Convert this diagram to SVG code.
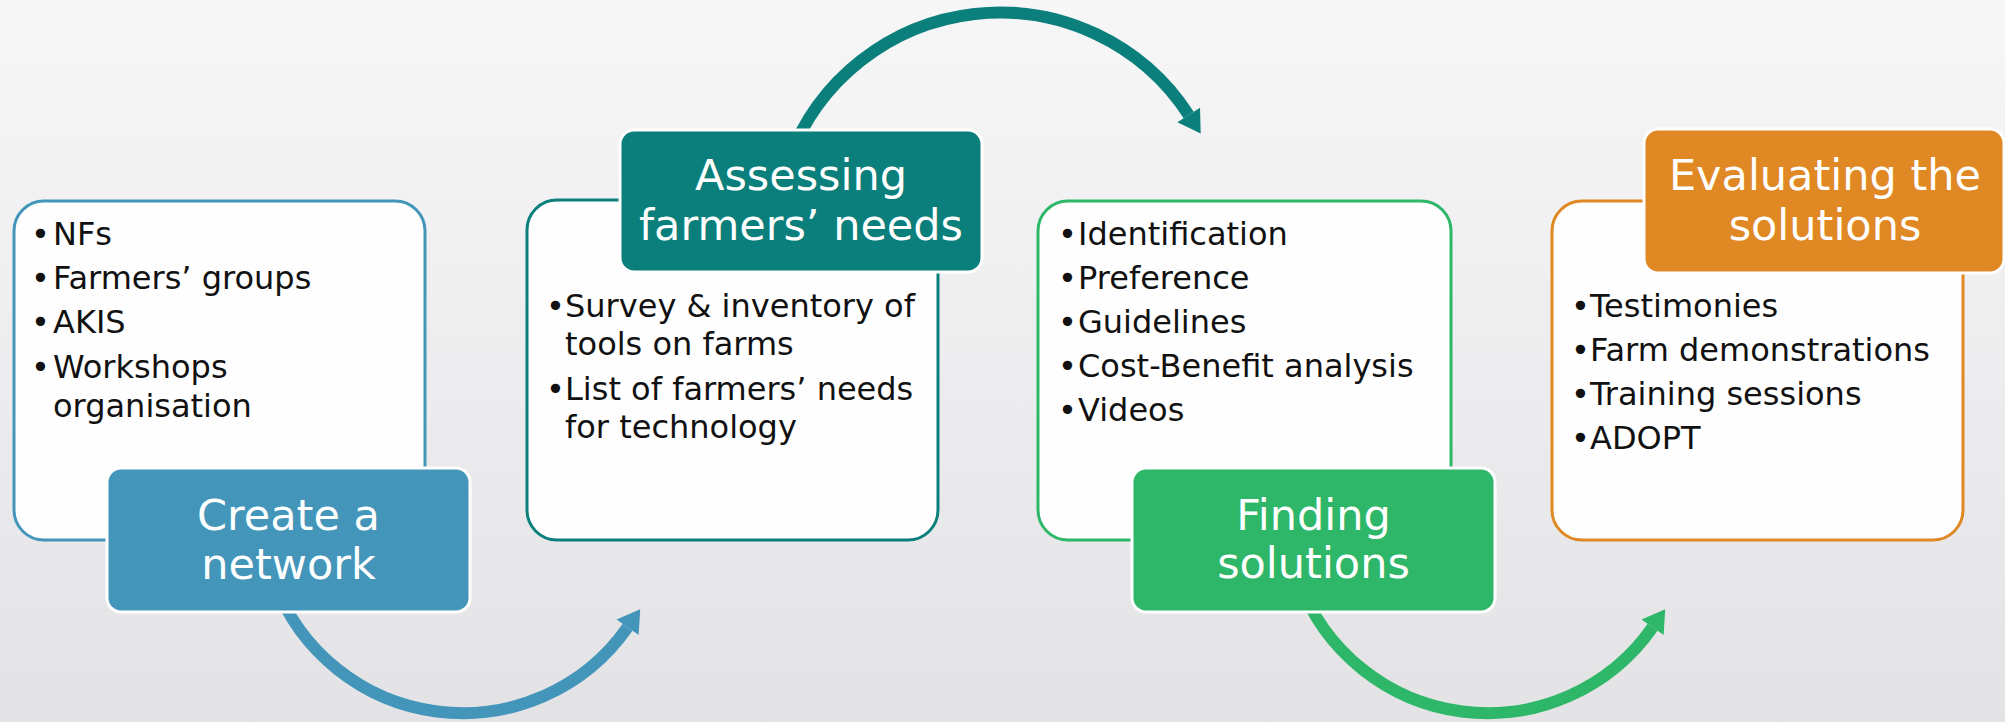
<svg xmlns="http://www.w3.org/2000/svg" width="2005" height="722" viewBox="0 0 2005 722">
<defs>
<linearGradient id="bg" x1="0" y1="0" x2="0" y2="1">
<stop offset="0" stop-color="#f7f7f8"/>
<stop offset="1" stop-color="#e3e3e6"/>
</linearGradient>
<marker id="hBlue" markerUnits="userSpaceOnUse" markerWidth="30" markerHeight="30" viewBox="-2 -15 26 30" refX="0" refY="0" orient="auto"><path d="M0,-13.5 L22,0 L0,13.5 Z" fill="#4396ba"/></marker>
<marker id="hTeal" markerUnits="userSpaceOnUse" markerWidth="30" markerHeight="30" viewBox="-2 -15 26 30" refX="0" refY="0" orient="auto"><path d="M0,-13.5 L22,0 L0,13.5 Z" fill="#0b7f7b"/></marker>
<marker id="hGreen" markerUnits="userSpaceOnUse" markerWidth="30" markerHeight="30" viewBox="-2 -15 26 30" refX="0" refY="0" orient="auto"><path d="M0,-13.5 L22,0 L0,13.5 Z" fill="#2eb769"/></marker>
</defs>
<style>
.body{fill:#fefefe;stroke-width:3}
.head{stroke:#ffffff;stroke-width:3}
.item{font-family:"DejaVu Sans",sans-serif;font-size:32px;fill:#111111}
.title{font-family:"DejaVu Sans",sans-serif;font-size:43px;fill:#ffffff;text-anchor:middle}
.arc{fill:none;stroke-width:12}
</style>
<rect x="0" y="0" width="2005" height="722" fill="url(#bg)"/>
<g id="connectors">
<path class="arc" stroke="#4396ba" marker-end="url(#hBlue)" d="M274,581 A201,201 0 0 0 627.6,627.3"/>
<path class="arc" stroke="#0b7f7b" marker-end="url(#hTeal)" d="M788.6,160.5 A225,225 0 0 1 1188.7,115"/>
<path class="arc" stroke="#2eb769" marker-end="url(#hGreen)" d="M1299,581 A201,201 0 0 0 1652.6,627.3"/>
</g>
<g id="node1">
<rect class="body" x="14" y="201" width="411" height="339" rx="30" stroke="#4396ba"/>
<text class="item" x="31" y="245">•</text><text class="item" x="53" y="245">NFs</text>
<text class="item" x="31" y="289">•</text><text class="item" x="53" y="289">Farmers’ groups</text>
<text class="item" x="31" y="333">•</text><text class="item" x="53" y="333">AKIS</text>
<text class="item" x="31" y="378">•</text><text class="item" x="53" y="378">Workshops</text>
<text class="item" x="53" y="417">organisation</text>
<rect class="head" x="107" y="468" width="363" height="144" rx="14" fill="#4396ba"/>
<text class="title" x="288.5" y="530">Create a</text>
<text class="title" x="288.5" y="579">network</text>
</g>
<g id="node2">
<rect class="body" x="527" y="200" width="411" height="340" rx="30" stroke="#0b7f7b"/>
<rect class="head" x="620" y="130" width="362" height="142" rx="14" fill="#0b7f7b"/>
<text class="title" x="801" y="190">Assessing</text>
<text class="title" x="801" y="240">farmers’ needs</text>
<text class="item" x="546" y="317">•</text><text class="item" x="565" y="317">Survey &amp; inventory of</text>
<text class="item" x="565" y="355">tools on farms</text>
<text class="item" x="546" y="400">•</text><text class="item" x="565" y="400">List of farmers’ needs</text>
<text class="item" x="565" y="438">for technology</text>
</g>
<g id="node3">
<rect class="body" x="1038" y="201" width="413" height="339" rx="30" stroke="#2eb769"/>
<text class="item" x="1058" y="245">•</text><text class="item" x="1078" y="245">Identification</text>
<text class="item" x="1058" y="289">•</text><text class="item" x="1078" y="289">Preference</text>
<text class="item" x="1058" y="333">•</text><text class="item" x="1078" y="333">Guidelines</text>
<text class="item" x="1058" y="377">•</text><text class="item" x="1078" y="377">Cost-Benefit analysis</text>
<text class="item" x="1058" y="421">•</text><text class="item" x="1078" y="421">Videos</text>
<rect class="head" x="1132" y="468" width="363" height="144" rx="14" fill="#2eb769"/>
<text class="title" x="1313.5" y="530">Finding</text>
<text class="title" x="1313.5" y="578">solutions</text>
</g>
<g id="node4">
<rect class="body" x="1552" y="201" width="411" height="339" rx="30" stroke="#df8824"/>
<rect class="head" x="1644" y="129" width="360" height="144" rx="14" fill="#df8824"/>
<text class="title" x="1825" y="190">Evaluating the</text>
<text class="title" x="1825" y="240">solutions</text>
<text class="item" x="1571" y="317">•</text><text class="item" x="1590" y="317">Testimonies</text>
<text class="item" x="1571" y="361">•</text><text class="item" x="1590" y="361">Farm demonstrations</text>
<text class="item" x="1571" y="405">•</text><text class="item" x="1590" y="405">Training sessions</text>
<text class="item" x="1571" y="449">•</text><text class="item" x="1590" y="449">ADOPT</text>
</g>
</svg>
